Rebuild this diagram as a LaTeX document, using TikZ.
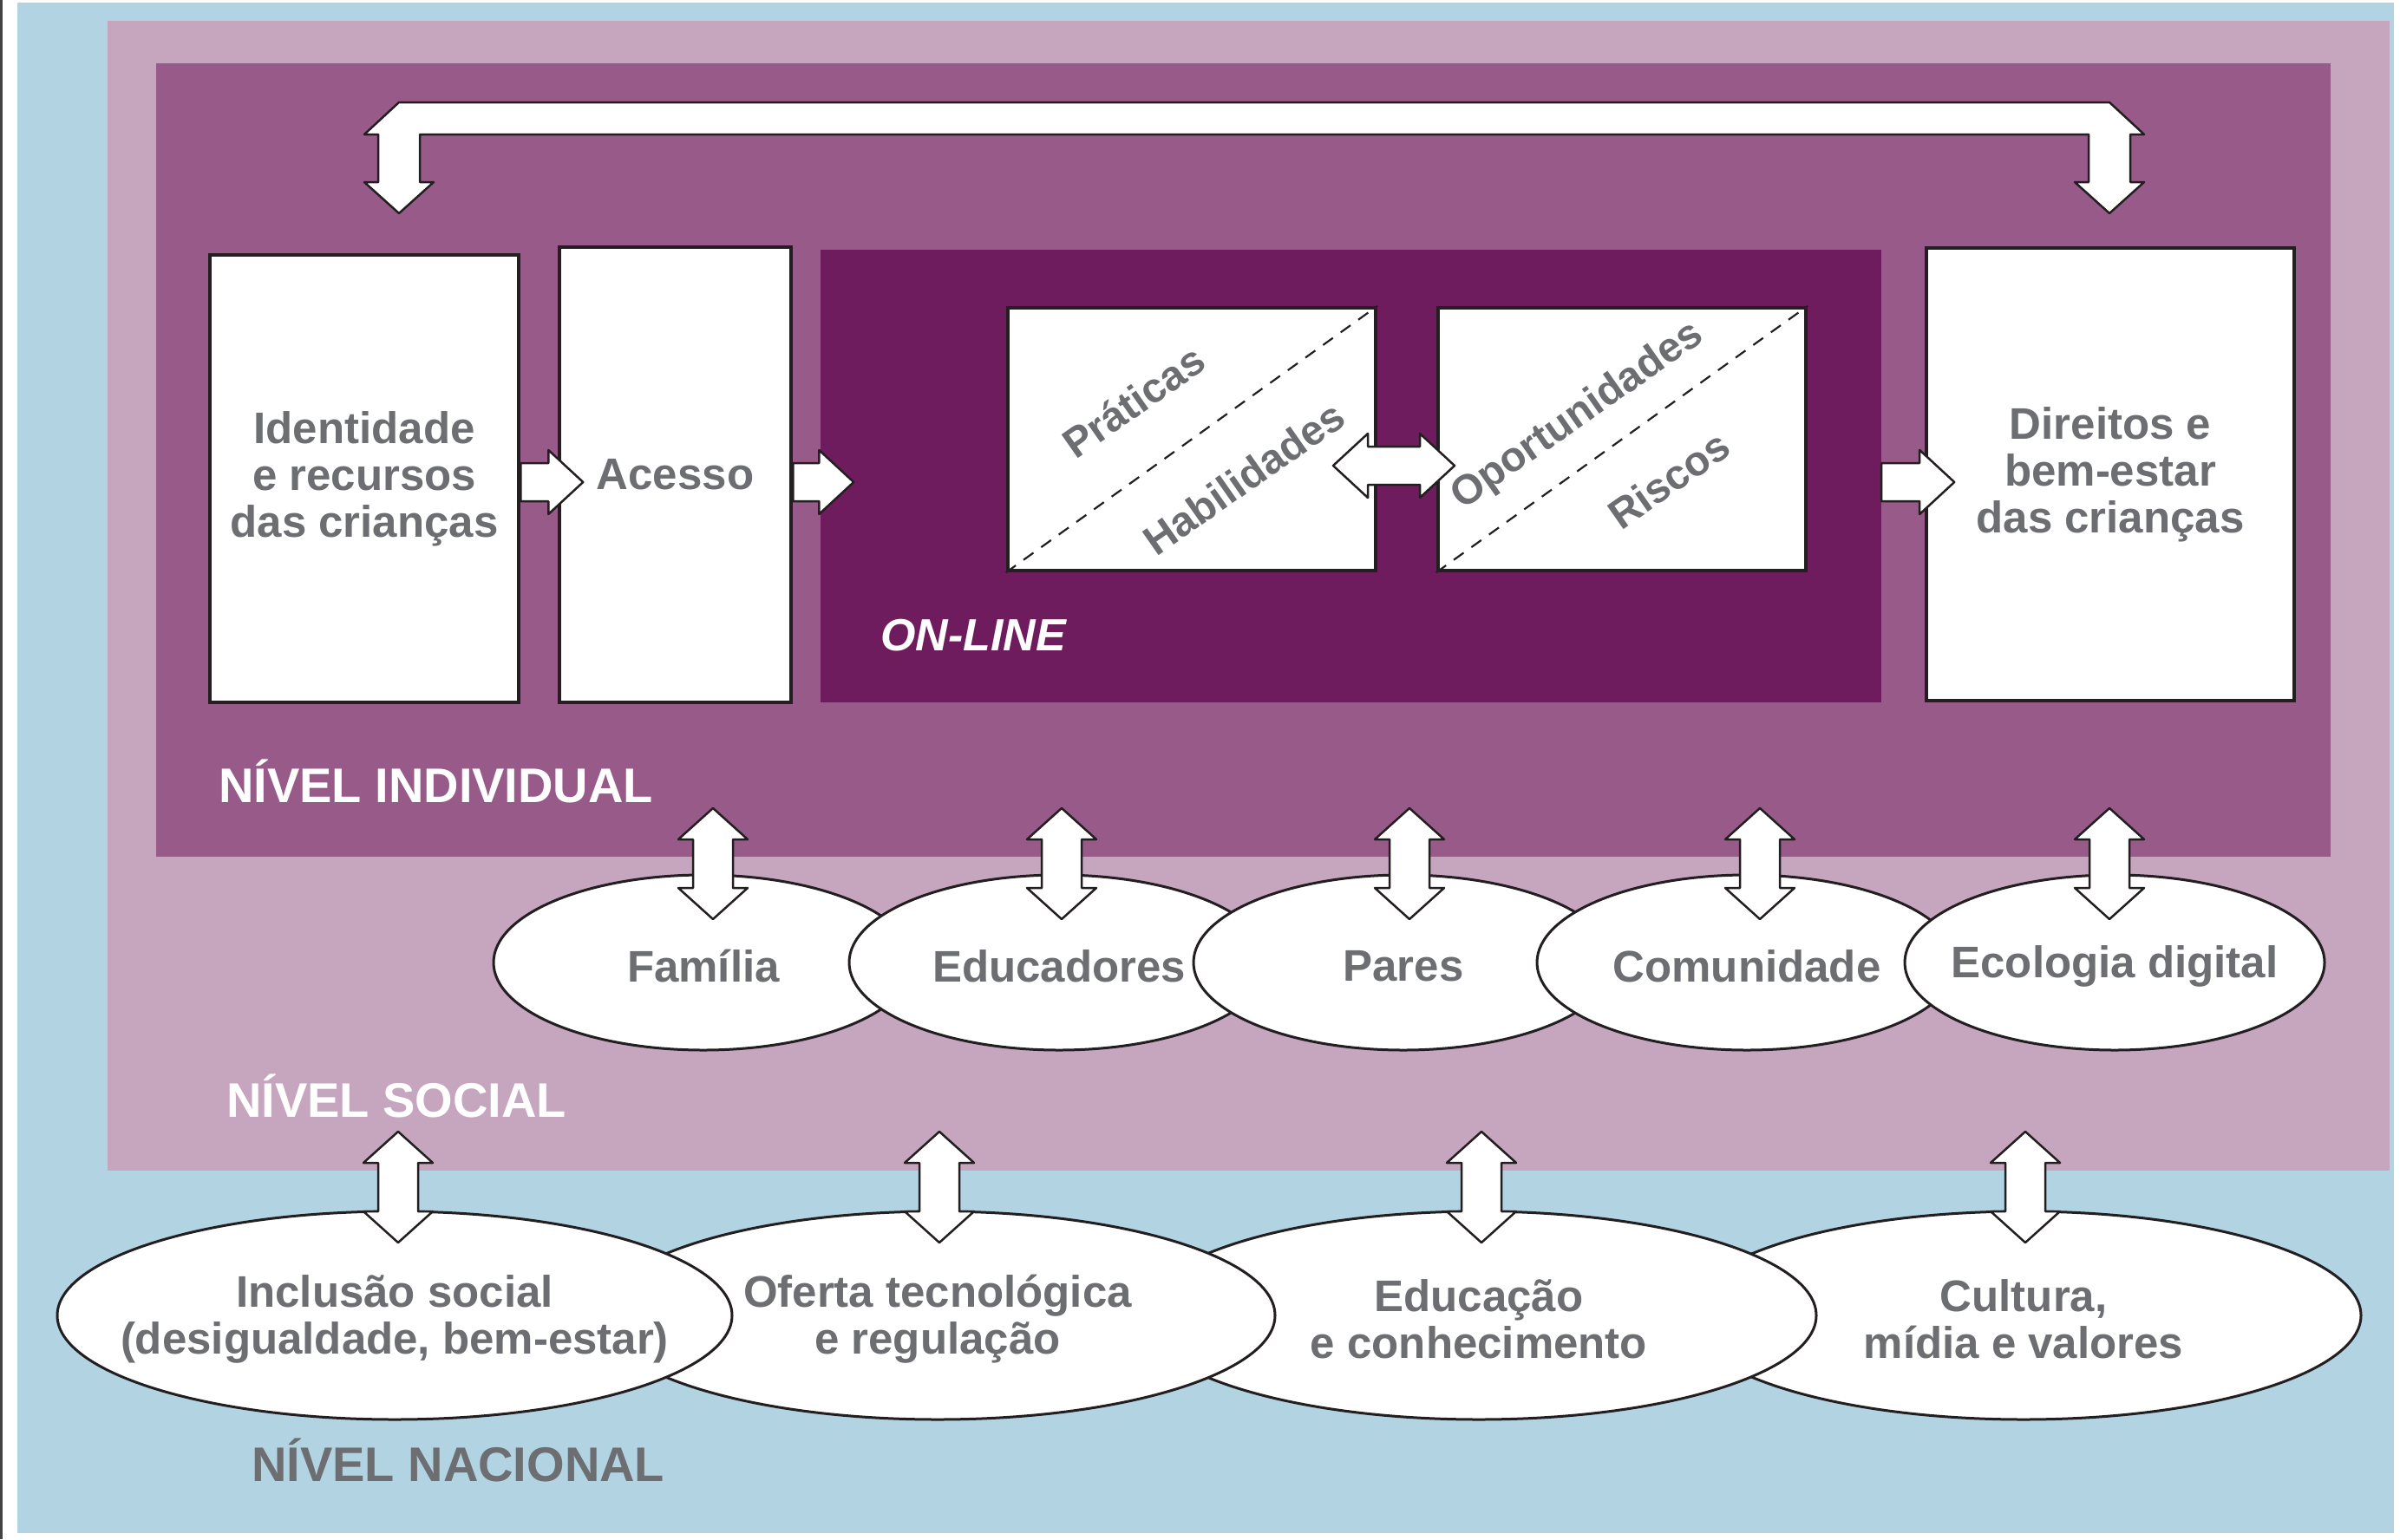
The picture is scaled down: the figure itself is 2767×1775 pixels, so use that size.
\documentclass[tikz,border=0pt]{standalone}
\usepackage{fontspec}
\setmainfont{Liberation Sans}
\usetikzlibrary{calc,shapes.geometric}
\definecolor{natblue}{RGB}{178,211,226}
\definecolor{socpink}{RGB}{198,165,191}
\definecolor{indpurple}{RGB}{152,90,137}
\definecolor{onpurple}{RGB}{111,28,94}
\definecolor{txtgray}{RGB}{109,110,113}
\definecolor{edgec}{RGB}{35,31,32}
\newcommand\txtfont{\fontsize{51}{54}\selectfont\bfseries}
\newcommand\vdblarrow[1]{\draw[blockarrow] (#1) -- ++(40,36) -- ++(-17,0) -- ++(0,56) -- ++(17,0) -- ++(-40,36) -- ++(-40,-36) -- ++(17,0) -- ++(0,-56) -- ++(-17,0) -- cycle;}
\newcommand\rblkarrow[2]{\draw[blockarrow] (#1) ++(0,-22) -- ++(#2,0) -- ++(0,-15) -- ++(40,37) -- ++(-40,37) -- ++(0,-15) -- ++(-#2,0) -- cycle;}
\tikzset{
  whitebox/.style={draw=edgec, line width=4.5pt, fill=white, rectangle, inner sep=0pt,
    align=center, text=txtgray, font=\txtfont},
  blockarrow/.style={draw=edgec, fill=white, line width=2.5pt, line join=round},
  dashline/.style={draw=edgec, line width=2.2pt, dash pattern=on 14pt off 11pt},
  rottext/.style={text=txtgray, font=\fontsize{48}{52}\selectfont\bfseries, rotate=35, inner sep=0pt},
  ell/.style={ellipse, draw=edgec, line width=3pt, fill=white, inner sep=0pt},
  elltext/.style={align=center, text=txtgray, font=\txtfont, inner sep=0pt, yshift=-4pt},
  socell/.style={ell, minimum width=484pt, minimum height=202pt},
  natell/.style={ell, minimum width=778pt, minimum height=240pt},
  levellabel/.style={anchor=base west, inner sep=0pt, font=\fontsize{56}{60}\selectfont\bfseries},
}
\begin{document}
\begin{tikzpicture}[x=1pt,y=-1pt]
\useasboundingbox (0,0) rectangle (2767,1775);
\fill[white] (0,0) rectangle (2767,1775);
\fill[edgec!85] (0,0) rectangle (3,1775);
% levels
\fill[natblue] (20,3) rectangle (2760,1768);
\fill[socpink] (124,24) rectangle (2755,1350);
\fill[indpurple] (180,73) rectangle (2687,988);
\node[rectangle, fill=onpurple, inner sep=0pt, minimum width=1223pt, minimum height=522pt] (online) at (1557.5,549) {};
% top connector bar
\coordinate (tl) at (460,118);
\coordinate (tr) at (2432,118);
\draw[blockarrow] (tl) -- (tr) -- ++(40,37) -- ++(-16,0) -- ++(0,55) -- ++(16,0) -- ++(-40,36) -- ++(-40,-36) -- ++(16,0) -- ++(0,-55) -- ($(tl)+(24,37)$) -- ++(0,55) -- ++(16,0) -- ++(-40,36) -- ++(-40,-36) -- ++(16,0) -- ++(0,-55) -- ++(-16,0) -- cycle;
% boxes
\node[whitebox, minimum width=356pt, minimum height=516pt] (ident) at (420,552) {Identidade\\e recursos\\das crianças};
\node[whitebox, minimum width=267pt, minimum height=525pt] (acesso) at (778.5,547.5) {Acesso};
\node[whitebox, minimum width=424pt, minimum height=522pt] (direitos) at (2433,547) {Direitos e\\bem-estar\\das crianças};
\node[whitebox, minimum width=424pt, minimum height=303pt] (prat) at (1374,506.5) {};
\node[whitebox, minimum width=424pt, minimum height=303pt] (oport) at (1870,506.5) {};
\draw[dashline] (prat.south west) -- (prat.north east);
\draw[dashline] (oport.south west) -- (oport.north east);
\node[rottext] (tprat) at (1307,463) {Práticas};
\node[rottext] (thab) at (1434,551) {Habilidades};
\node[rottext] (topo) at (1819,480) {Oportunidades};
\node[rottext] (tris) at (1924,553) {Riscos};
% horizontal arrows
\coordinate (r1) at (ident.east |- 0,556);
\coordinate (r2) at (acesso.east |- 0,556);
\coordinate (r3) at (online.east |- 0,556);
\rblkarrow{r1}{32}
\rblkarrow{r2}{30}
\rblkarrow{r3}{44}
\coordinate (lt) at (1537,537);
\draw[blockarrow] (lt) -- ++(40,-37) -- ++(0,15) -- ++(60,0) -- ++(0,-15) -- ++(40,37) -- ++(-40,37) -- ++(0,-15) -- ++(-60,0) -- ++(0,15) -- cycle;
\node[anchor=base west, inner sep=0pt, text=white, font=\fontsize{52}{56}\selectfont\bfseries\itshape] (onlbl) at (1015,750) {ON-LINE};
% national ellipses (right ones behind)
\node[natell] (cult) at (2333,1517) {};
\node[natell] (educ) at (1705,1517) {};
\node[natell] (ofer) at (1081,1517) {};
\node[natell] (incl) at (455,1517) {};
\node[elltext] at (cult) {Cultura,\\mídia e valores};
\node[elltext] at (educ) {Educação\\e conhecimento};
\node[elltext] at (ofer) {Oferta tecnológica\\e regulação};
\node[elltext] at (incl) {Inclusão social\\(desigualdade, bem-estar)};
% social ellipses (right ones in front)
\node[socell] (fam) at (811,1110) {};
\node[socell] (edu) at (1221,1110) {};
\node[socell] (par) at (1618,1110) {};
\node[socell] (com) at (2014,1110) {};
\node[socell] (eco) at (2438,1110) {};
\node[elltext] at (fam) {Família};
\node[elltext] at (edu) {Educadores};
\node[elltext] at (par) {Pares};
\node[elltext] at (com) {Comunidade};
\node[elltext] at (eco) {Ecologia digital};
% vertical connectors individual <-> social
\coordinate (v1) at (822,932);
\coordinate (v2) at (1224,932);
\coordinate (v3) at (1625,932);
\coordinate (v4) at (2029,932);
\coordinate (v5) at (2432,932);
\vdblarrow{v1}\vdblarrow{v2}\vdblarrow{v3}\vdblarrow{v4}\vdblarrow{v5}
% vertical connectors social <-> national
\coordinate (w1) at (459,1305);
\coordinate (w2) at (1083,1305);
\coordinate (w3) at (1708,1305);
\coordinate (w4) at (2335,1305);
\vdblarrow{w1}\vdblarrow{w2}\vdblarrow{w3}\vdblarrow{w4}
% level labels
\node[levellabel, text=white] (lind) at (252,925) {NÍVEL INDIVIDUAL};
\node[levellabel, text=white] (lsoc) at (261,1288) {NÍVEL SOCIAL};
\node[levellabel, text=txtgray] (lnat) at (290,1708) {NÍVEL NACIONAL};
\end{tikzpicture}
\end{document}
